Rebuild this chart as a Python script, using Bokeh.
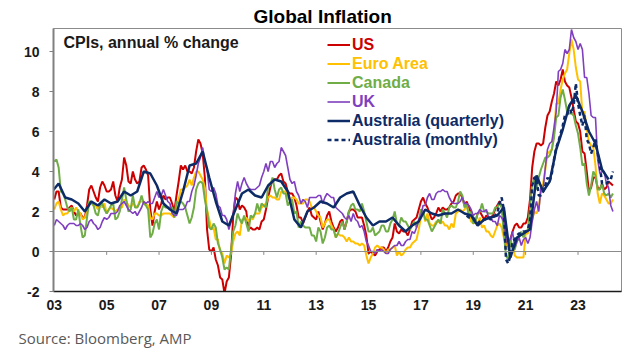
from bokeh.plotting import figure
from bokeh.models import FixedTicker, Span, Label, Legend, LegendItem, Title
from bokeh.embed import file_html
from bokeh.resources import INLINE

# ---------------- data (annual % change) ----------------
# monthly series, Jan 2003 .. May 2024
us = [
    2.6, 3.0, 3.0, 2.2, 2.1, 2.1, 2.1, 2.2, 2.3, 2.0, 1.8, 1.9,
    1.9, 1.7, 1.7, 2.3, 3.1, 3.3, 3.0, 2.7, 2.5, 3.2, 3.5, 3.3,
    3.0, 3.0, 3.1, 3.5, 2.8, 2.5, 3.2, 3.6, 4.7, 4.3, 3.5, 3.4,
    4.0, 3.6, 3.4, 3.5, 4.2, 4.3, 4.1, 3.8, 2.1, 1.3, 2.0, 2.5,
    2.1, 2.4, 2.8, 2.6, 2.7, 2.7, 2.4, 2.0, 2.8, 3.5, 4.3, 4.1,
    4.3, 4.0, 4.0, 3.9, 4.2, 5.0, 5.6, 5.4, 4.9, 3.7, 1.1, 0.1,
    0.0, 0.2, -0.4, -0.7, -1.3, -1.4, -2.1, -1.5, -1.3, -0.2, 1.8, 2.7,
    2.6, 2.1, 2.3, 2.2, 2.0, 1.1, 1.2, 1.1, 1.1, 1.2, 1.1, 1.5,
    1.6, 2.1, 2.7, 3.2, 3.6, 3.6, 3.6, 3.8, 3.9, 3.5, 3.4, 3.0,
    2.9, 2.9, 2.7, 2.3, 1.7, 1.7, 1.4, 1.7, 2.0, 2.2, 1.8, 1.7,
    1.6, 2.0, 1.5, 1.1, 1.4, 1.8, 2.0, 1.5, 1.2, 1.0, 1.2, 1.5,
    1.6, 1.1, 1.5, 2.0, 2.1, 2.1, 2.0, 1.7, 1.7, 1.7, 1.3, 0.8,
    -0.1, 0.0, -0.1, -0.2, 0.0, 0.1, 0.2, 0.2, 0.0, 0.2, 0.5, 0.7,
    1.4, 1.0, 0.9, 1.1, 1.0, 1.0, 0.8, 1.1, 1.5, 1.6, 1.7, 2.1,
    2.5, 2.7, 2.4, 2.2, 1.9, 1.6, 1.7, 1.9, 2.2, 2.0, 2.2, 2.1,
    2.1, 2.2, 2.4, 2.5, 2.8, 2.9, 2.9, 2.7, 2.3, 2.5, 2.2, 1.9,
    1.6, 1.5, 1.9, 2.0, 1.8, 1.6, 1.8, 1.7, 1.7, 1.8, 2.1, 2.3,
    2.5, 2.3, 1.5, 0.3, 0.1, 0.6, 1.0, 1.3, 1.4, 1.2, 1.2, 1.4,
    1.4, 1.7, 2.6, 4.2, 5.0, 5.4, 5.4, 5.3, 5.4, 6.2, 6.8, 7.0,
    7.5, 7.9, 8.5, 8.3, 8.6, 9.1, 8.5, 8.3, 8.2, 7.7, 7.1, 6.5,
    6.4, 6.0, 5.0, 4.9, 4.0, 3.0, 3.2, 3.7, 3.7, 3.2, 3.1, 3.4,
    3.1, 3.2, 3.5, 3.4, 3.3,
]

euro_area = [
    2.1, 2.4, 2.5, 2.1, 1.8, 1.9, 1.9, 2.1, 2.2, 2.0, 2.2, 2.0,
    1.9, 1.6, 1.7, 2.0, 2.5, 2.4, 2.3, 2.3, 2.1, 2.4, 2.2, 2.4,
    1.9, 2.1, 2.2, 2.1, 2.0, 2.1, 2.2, 2.2, 2.6, 2.5, 2.3, 2.2,
    2.4, 2.3, 2.2, 2.5, 2.5, 2.5, 2.4, 2.3, 1.7, 1.6, 1.9, 1.9,
    1.8, 1.8, 1.9, 1.9, 1.9, 1.9, 1.8, 1.7, 2.1, 2.6, 3.1, 3.1,
    3.2, 3.3, 3.6, 3.3, 3.7, 4.0, 4.0, 3.8, 3.6, 3.2, 2.1, 1.6,
    1.1, 1.2, 0.6, 0.6, 0.0, -0.1, -0.6, -0.2, -0.3, -0.1, 0.5, 0.9,
    1.0, 0.8, 1.6, 1.6, 1.7, 1.5, 1.7, 1.6, 1.9, 1.9, 1.9, 2.2,
    2.3, 2.4, 2.7, 2.8, 2.7, 2.7, 2.6, 2.6, 3.0, 3.0, 3.0, 2.7,
    2.6, 2.7, 2.7, 2.6, 2.4, 2.4, 2.4, 2.6, 2.6, 2.5, 2.2, 2.2,
    2.0, 1.8, 1.7, 1.2, 1.4, 1.6, 1.6, 1.3, 1.1, 0.7, 0.9, 0.8,
    0.8, 0.7, 0.5, 0.7, 0.5, 0.5, 0.4, 0.4, 0.3, 0.4, 0.3, -0.2,
    -0.6, -0.3, -0.1, 0.2, 0.3, 0.2, 0.2, 0.1, -0.1, 0.1, 0.1, 0.2,
    0.3, -0.2, 0.0, -0.2, -0.1, 0.1, 0.2, 0.2, 0.4, 0.5, 0.6, 1.1,
    1.7, 2.0, 1.5, 1.9, 1.4, 1.3, 1.3, 1.5, 1.5, 1.4, 1.5, 1.3,
    1.3, 1.1, 1.4, 1.2, 1.9, 2.0, 2.1, 2.0, 2.1, 2.3, 1.9, 1.5,
    1.4, 1.5, 1.4, 1.7, 1.2, 1.3, 1.0, 1.0, 0.8, 0.7, 1.0, 1.3,
    1.4, 1.2, 0.7, 0.3, 0.1, 0.3, 0.4, -0.2, -0.3, -0.3, -0.3, -0.3,
    0.9, 0.9, 1.3, 1.6, 2.0, 1.9, 2.2, 3.0, 3.4, 4.1, 4.9, 5.0,
    5.1, 5.9, 7.4, 7.4, 8.1, 8.6, 8.9, 9.1, 9.9, 10.6, 10.1, 9.2,
    8.6, 8.5, 6.9, 7.0, 6.1, 5.5, 5.3, 5.2, 4.3, 2.9, 2.4, 2.9,
    2.8, 2.6, 2.4, 2.4, 2.6,
]

canada = [
    4.5, 4.6, 4.2, 3.0, 2.9, 2.6, 2.2, 2.0, 2.2, 1.6, 1.6, 2.1,
    1.3, 0.7, 0.8, 1.7, 2.5, 2.5, 2.3, 1.9, 1.8, 2.3, 2.4, 2.1,
    1.9, 2.1, 2.3, 2.4, 1.6, 1.7, 2.0, 2.6, 3.2, 2.6, 2.0, 2.1,
    2.8, 2.2, 2.2, 2.4, 2.8, 2.4, 2.3, 2.1, 0.7, 0.9, 1.4, 1.6,
    1.1, 2.0, 2.3, 2.2, 2.2, 2.2, 2.2, 1.7, 2.5, 2.4, 2.5, 2.4,
    2.2, 1.8, 1.4, 1.7, 2.2, 3.1, 3.4, 3.5, 3.4, 2.6, 2.0, 1.2,
    1.1, 1.4, 1.2, 0.4, 0.1, -0.3, -0.9, -0.8, -0.9, 0.1, 1.0, 1.3,
    1.9, 1.6, 1.4, 1.8, 1.4, 1.0, 1.8, 1.7, 1.9, 2.4, 2.0, 2.4,
    2.3, 2.2, 3.3, 3.3, 3.7, 3.1, 2.7, 3.1, 3.2, 2.9, 2.9, 2.3,
    2.5, 2.6, 1.9, 2.0, 1.2, 1.5, 1.3, 1.2, 1.2, 1.2, 0.8, 0.8,
    0.5, 1.2, 1.0, 0.4, 0.7, 1.2, 1.3, 1.1, 1.1, 0.7, 0.9, 1.2,
    1.5, 1.1, 1.5, 2.0, 2.3, 2.4, 2.1, 2.1, 2.0, 2.4, 2.0, 1.5,
    1.0, 1.0, 1.2, 0.8, 0.9, 1.0, 1.3, 1.3, 1.0, 1.0, 1.4, 1.6,
    2.0, 1.4, 1.3, 1.7, 1.5, 1.5, 1.3, 1.1, 1.3, 1.5, 1.2, 1.5,
    2.1, 2.0, 1.6, 1.6, 1.3, 1.0, 1.2, 1.4, 1.6, 1.4, 2.1, 1.9,
    1.7, 2.2, 2.3, 2.2, 2.2, 2.5, 3.0, 2.8, 2.2, 2.4, 1.7, 2.0,
    1.4, 1.5, 1.9, 2.0, 2.4, 2.0, 2.0, 1.9, 1.9, 1.9, 2.2, 2.2,
    2.4, 2.2, 0.9, -0.2, -0.4, 0.7, 0.1, 0.1, 0.5, 0.7, 1.0, 0.7,
    1.0, 1.1, 2.2, 3.4, 3.6, 3.1, 3.7, 4.1, 4.4, 4.7, 4.7, 4.8,
    5.1, 5.7, 6.7, 6.8, 7.7, 8.1, 7.6, 7.0, 6.9, 6.9, 6.8, 6.3,
    5.9, 5.2, 4.3, 4.4, 3.4, 2.8, 3.3, 4.0, 3.8, 3.1, 3.1, 3.4,
    2.9, 2.8, 2.9, 2.7, 2.9,
]

uk = [
    1.3, 1.6, 1.5, 1.4, 1.3, 1.1, 1.3, 1.4, 1.4, 1.4, 1.3, 1.3,
    1.4, 1.3, 1.1, 1.2, 1.5, 1.6, 1.4, 1.3, 1.1, 1.2, 1.5, 1.7,
    1.6, 1.7, 1.9, 1.9, 1.9, 2.0, 2.3, 2.4, 2.5, 2.3, 2.1, 2.0,
    1.9, 2.0, 1.8, 2.0, 2.2, 2.5, 2.4, 2.5, 2.4, 2.4, 2.7, 3.0,
    2.7, 2.8, 3.1, 2.8, 2.5, 2.4, 1.9, 1.8, 1.8, 2.1, 2.1, 2.1,
    2.2, 2.5, 2.5, 3.0, 3.3, 3.8, 4.4, 4.7, 5.2, 4.5, 4.1, 3.1,
    3.0, 3.2, 2.9, 2.3, 2.2, 1.8, 1.8, 1.6, 1.1, 1.5, 1.9, 2.9,
    3.5, 3.0, 3.4, 3.7, 3.4, 3.2, 3.1, 3.1, 3.1, 3.2, 3.3, 3.7,
    4.0, 4.4, 4.0, 4.5, 4.5, 4.2, 4.4, 4.5, 5.2, 5.0, 4.8, 4.2,
    3.6, 3.4, 3.5, 3.0, 2.8, 2.4, 2.6, 2.5, 2.2, 2.7, 2.7, 2.7,
    2.7, 2.8, 2.8, 2.4, 2.7, 2.9, 2.8, 2.7, 2.7, 2.2, 2.1, 2.0,
    1.9, 1.7, 1.6, 1.8, 1.5, 1.9, 1.6, 1.5, 1.2, 1.3, 1.0, 0.5,
    0.3, 0.0, 0.0, -0.1, 0.1, 0.0, 0.1, 0.0, -0.1, -0.1, 0.1, 0.2,
    0.3, 0.3, 0.5, 0.3, 0.3, 0.5, 0.6, 0.6, 1.0, 0.9, 1.2, 1.6,
    1.8, 2.3, 2.3, 2.7, 2.9, 2.6, 2.6, 2.9, 3.0, 3.0, 3.1, 3.0,
    3.0, 2.7, 2.5, 2.4, 2.4, 2.4, 2.5, 2.7, 2.4, 2.4, 2.3, 2.1,
    1.8, 1.9, 1.9, 2.1, 2.0, 2.0, 2.1, 1.7, 1.7, 1.5, 1.5, 1.3,
    1.8, 1.7, 1.5, 0.8, 0.5, 0.6, 1.0, 0.2, 0.5, 0.7, 0.3, 0.6,
    0.7, 0.4, 0.7, 1.5, 2.1, 2.5, 2.0, 3.2, 3.1, 4.2, 5.1, 5.4,
    5.5, 6.2, 7.0, 9.0, 9.1, 9.4, 10.1, 9.9, 10.1, 11.1, 10.7, 10.5,
    10.1, 10.4, 10.1, 8.7, 8.7, 7.9, 6.8, 6.7, 6.7, 4.6, 3.9, 4.0,
    4.0, 3.4, 3.2, 2.3, 2.0,
]

# quarterly series, Q4 2002 .. Q1 2024
aus_quarterly = [
    3.0,
    3.4, 2.7, 2.6, 2.4,
    2.0, 2.5, 2.3, 2.6,
    2.4, 2.5, 3.0, 2.8,
    3.0, 4.0, 3.9, 3.3,
    2.4, 2.1, 1.9, 3.0,
    4.3, 4.4, 5.0, 3.7,
    2.5, 1.5, 1.3, 2.1,
    2.9, 3.1, 2.8, 2.7,
    3.3, 3.6, 3.5, 3.0,
    1.6, 1.2, 2.0, 2.2,
    2.5, 2.4, 2.2, 2.7,
    2.9, 3.0, 2.3, 1.7,
    1.3, 1.5, 1.5, 1.7,
    1.3, 1.0, 1.3, 1.5,
    2.1, 1.9, 1.8, 1.9,
    1.9, 2.1, 1.9, 1.8,
    1.3, 1.6, 1.7, 1.8,
    2.2, -0.3, 0.7, 0.9,
    1.1, 3.8, 3.0, 3.5,
    5.1, 6.1, 7.3, 7.8,
    7.0, 6.0, 5.4, 4.1,
    3.6,
]

# monthly indicator, Oct 2018 .. May 2024
aus_monthly = [
    1.8, 1.7, 1.7,
    1.7, 1.5, 1.4, 1.5, 1.5, 1.6, 1.6, 1.7, 1.6, 1.7, 1.8, 1.9,
    2.4, 2.7, 2.1, -0.4, -0.6, -0.2, 0.5, 0.6, 0.8, 0.9, 0.9, 1.0,
    1.0, 1.1, 1.5, 3.3, 3.7, 3.7, 2.8, 2.8, 3.0, 3.3, 3.7, 3.5,
    3.9, 4.6, 5.2, 5.5, 5.9, 6.3, 6.8, 6.8, 7.3, 6.9, 7.3, 8.4,
    7.4, 6.8, 6.3, 6.8, 5.6, 5.4, 4.9, 5.2, 5.6, 4.9, 4.3, 3.4,
    3.4, 3.4, 3.5, 3.6, 4.0,
]

tick_years = [2003, 2005, 2007, 2009, 2011, 2013, 2015, 2017, 2019, 2021, 2023]
tick_labels = ["03", "05", "07", "09", "11", "13", "15", "17", "19", "21", "23"]
y_ticks = [-2, 0, 2, 4, 6, 8, 10]

series_names = ["US", "Euro Area", "Canada", "UK",
                "Australia (quarterly)", "Australia (monthly)"]
colors = ["#CC0000", "#FFC000", "#70AD47", "#7F3FBF", "#0D2B66", "#0D2B66"]


def month_axis(n, year, month):
    return [year + (month - 1 + i) / 12.0 for i in range(n)]


x_monthly = month_axis(len(us), 2003, 1)
x_quarterly = [2002 + (12 - 1) / 12.0 + 0.25 * i for i in range(len(aus_quarterly))]
x_aus_m = month_axis(len(aus_monthly), 2018, 10)

# ---------------- figure ----------------
FONT = "Liberation Sans"
p = figure(width=634, height=362, x_range=(2002.97, 2024.66), y_range=(-2, 11.15),
           output_backend="svg", toolbar_location=None, title=None,
           min_border_left=53, min_border_right=13, min_border_top=28,
           min_border_bottom=71)
p.background_fill_color = "white"
p.border_fill_color = "white"
p.outline_line_color = "#8c8c8c"
p.outline_line_width = 1
p.xgrid.visible = False
p.ygrid.visible = False

xa = p.xaxis[0]
xa.ticker = FixedTicker(ticks=tick_years)
xa.major_label_overrides = {y: l for y, l in zip(tick_years, tick_labels)}
xa.major_tick_out = 0
xa.major_tick_in = 0
xa.minor_tick_out = 0
xa.minor_tick_in = 0
xa.axis_line_color = "#1a1a1a"
xa.axis_line_width = 1.5
xa.major_label_text_font = FONT
xa.major_label_text_font_style = "bold"
xa.major_label_text_font_size = "14px"
xa.major_label_text_color = "#1a1a1a"
xa.major_label_standoff = 8

ya = p.yaxis[0]
ya.ticker = FixedTicker(ticks=y_ticks)
ya.major_label_overrides = {v: str(v) for v in y_ticks}
ya.major_tick_out = 4
ya.major_tick_in = 0
ya.minor_tick_out = 0
ya.minor_tick_in = 0
ya.major_tick_line_color = "#808080"
ya.axis_line_color = "#808080"
ya.axis_line_width = 2
ya.major_label_text_font = FONT
ya.major_label_text_font_style = "bold"
ya.major_label_text_font_size = "14px"
ya.major_label_text_color = "#1a1a1a"
ya.major_label_standoff = 10

# zero line with small downward ticks
p.add_layout(Span(location=0, dimension="width", line_color="#8c8c8c", line_width=1.2))
zt = tick_years[1:]
p.segment(x0=zt, y0=[0] * len(zt), x1=zt, y1=[-0.17] * len(zt),
          line_color="#8c8c8c", line_width=1)

# ---------------- lines ----------------
renderers = []
renderers.append(p.line(x_monthly, us, line_color=colors[0], line_width=2))
renderers.append(p.line(x_monthly, euro_area, line_color=colors[1], line_width=2))
renderers.append(p.line(x_monthly, canada, line_color=colors[2], line_width=2))
renderers.append(p.line(x_monthly, uk, line_color=colors[3], line_width=1.6))
renderers.append(p.line(x_quarterly, aus_quarterly, line_color=colors[4], line_width=2.5))
renderers.append(p.line(x_aus_m, aus_monthly, line_color=colors[5], line_width=2.5,
                        line_dash="4 3"))

# ---------------- legend (one per item so each label has its colour) ----------------
frame_h = 263
for i, (name, r, c) in enumerate(zip(series_names, renderers, colors)):
    center_from_top = 17 + 19 * i
    bottom = frame_h - center_from_top - 8.5
    lg = Legend(items=[LegendItem(label=name, renderers=[r])],
                location=(274, bottom), orientation="vertical",
                glyph_width=23, glyph_height=17, label_height=17,
                label_standoff=2, padding=0, margin=0, spacing=0,
                border_line_color=None, background_fill_alpha=0,
                label_text_color=c, label_text_font=FONT,
                label_text_font_style="bold", label_text_font_size="16px",
                label_text_baseline="middle")
    p.add_layout(lg)

# ---------------- texts ----------------
p.add_layout(Label(x=10, y=frame_h - 14, x_units="screen", y_units="screen",
                   text="CPIs, annual % change", text_font=FONT,
                   text_font_style="bold", text_font_size="16px",
                   text_color="#1a1a1a", text_baseline="middle"))

p.add_layout(Title(text="Global Inflation", align="left", offset=200, standoff=3,
                   text_font=FONT, text_font_style="bold", text_font_size="19px",
                   text_color="#000000"), "above")
p.add_layout(Title(text="Source: Bloomberg, AMP", align="left", offset=-35, standoff=26,
                   text_font="Open Sans", text_font_style="normal",
                   text_font_size="15px", text_color="#595959"), "below")

open("out.html", "w").write(file_html(p, INLINE))
